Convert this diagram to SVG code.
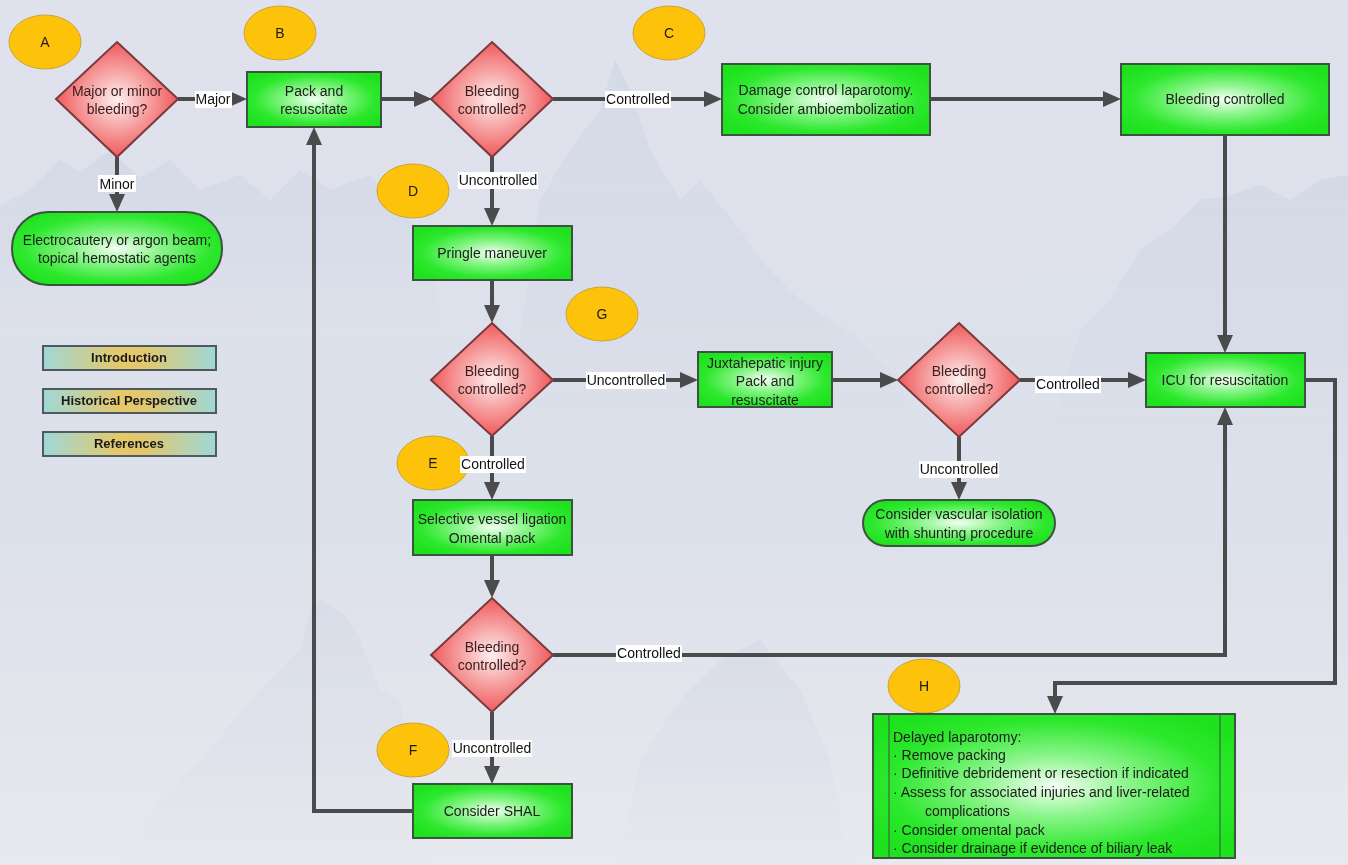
<svg xmlns="http://www.w3.org/2000/svg" width="1348" height="865" viewBox="0 0 1348 865">
  <defs>
    <linearGradient id="bgGrad" x1="0" y1="0" x2="0" y2="1">
      <stop offset="0" stop-color="#dfe2ec"/>
      <stop offset="0.6" stop-color="#dce0ea"/>
      <stop offset="1" stop-color="#e8e9ee"/>
    </linearGradient>
    <linearGradient id="mtnGrad" x1="0" y1="0" x2="0" y2="1">
      <stop offset="0" stop-color="#c3cbe0" stop-opacity="0.75"/>
      <stop offset="0.6" stop-color="#c8cfe2" stop-opacity="0.45"/>
      <stop offset="1" stop-color="#d6dbe8" stop-opacity="0"/>
    </linearGradient>
    <radialGradient id="greenGrad" cx="0.5" cy="0.5" r="0.6">
      <stop offset="0" stop-color="#f4fff4"/>
      <stop offset="0.35" stop-color="#8af58a"/>
      <stop offset="0.75" stop-color="#2de82d"/>
      <stop offset="1" stop-color="#1ee21e"/>
    </radialGradient>
    <radialGradient id="redGrad" cx="0.5" cy="0.5" r="0.55">
      <stop offset="0" stop-color="#fdf0f0"/>
      <stop offset="0.45" stop-color="#f7a4a4"/>
      <stop offset="1" stop-color="#ee4a4e"/>
    </radialGradient>
    <linearGradient id="navGrad" x1="0" y1="0" x2="1" y2="0">
      <stop offset="0" stop-color="#9fd8d8"/>
      <stop offset="0.45" stop-color="#e6c868"/>
      <stop offset="0.6" stop-color="#e0c870"/>
      <stop offset="1" stop-color="#9fd8d8"/>
    </linearGradient>
    <marker id="arrow" viewBox="0 0 18 16" refX="8" refY="8" markerWidth="18" markerHeight="16" markerUnits="userSpaceOnUse" orient="auto">
      <path d="M0,0 L18,8 L0,16 z" fill="#4b4b4d"/>
    </marker>
    <style>
      .box { fill: url(#greenGrad); stroke: #3d5240; stroke-width: 2; }
      .dia { fill: url(#redGrad); stroke: #7a3a3c; stroke-width: 2; }
      .tag { fill: #fdc30a; stroke: #c9a23a; stroke-width: 1; }
      .nav { fill: url(#navGrad); stroke: #4e5a60; stroke-width: 2; }
      .txt { font-family: "Liberation Sans", Arial, sans-serif; font-size: 14px; fill: #1c1c1c; text-anchor: middle; }
      .dtxt { font-family: "Liberation Sans", Arial, sans-serif; font-size: 14px; fill: #3a1c1c; text-anchor: middle; }
      .ltxt { font-family: "Liberation Sans", Arial, sans-serif; font-size: 14px; fill: #1c1c1c; }
      .navtxt { font-family: "Liberation Sans", Arial, sans-serif; font-size: 13px; font-weight: bold; fill: #1a1a1a; text-anchor: middle; }
      .lbl { font-family: "Liberation Sans", Arial, sans-serif; font-size: 14px; fill: #111; text-anchor: middle; }
      .lblbg { fill: #ffffff; }
      .conn { fill: none; stroke: #4b4b4d; stroke-width: 4; }
      .mtn { fill: url(#mtnGrad); }
    </style>
  </defs>

  <!-- backdrop -->
  <rect x="0" y="0" width="1348" height="865" fill="url(#bgGrad)"/>
  <g id="backdrop-mountains" opacity="0.45">
    <polygon class="mtn" points="0,330 0,205 30,190 60,160 80,172 110,150 140,178 170,160 200,190 240,175 270,200 300,170 330,190 370,175 400,210 430,240 440,330"/>
    <polygon class="mtn" points="500,470 540,200 570,150 600,110 615,60 630,90 650,150 680,200 700,180 740,230 760,260 800,300 860,340 900,380 920,470"/>
    <polygon class="mtn" points="1040,470 1080,330 1110,300 1140,250 1170,230 1200,200 1230,195 1260,185 1290,200 1320,180 1348,175 1348,470"/>
    <polygon class="mtn" points="120,865 160,800 200,760 260,690 300,650 310,610 320,600 345,615 360,640 380,690 400,700 430,865" opacity="0.6"/>
    <polygon class="mtn" points="620,865 640,760 680,700 720,660 760,640 800,690 830,760 850,865" opacity="0.7"/>
  </g>

  <!-- step tags -->
  <g id="tag-A"><ellipse class="tag" cx="45" cy="42" rx="36" ry="27"/><text class="txt" x="45" y="47">A</text></g>
  <g id="tag-B"><ellipse class="tag" cx="280" cy="33" rx="36" ry="27"/><text class="txt" x="280" y="38">B</text></g>
  <g id="tag-C"><ellipse class="tag" cx="669" cy="33" rx="36" ry="27"/><text class="txt" x="669" y="38">C</text></g>
  <g id="tag-D"><ellipse class="tag" cx="413" cy="191" rx="36" ry="27"/><text class="txt" x="413" y="196">D</text></g>
  <g id="tag-G"><ellipse class="tag" cx="602" cy="314" rx="36" ry="27"/><text class="txt" x="602" y="319">G</text></g>
  <g id="tag-E"><ellipse class="tag" cx="433" cy="463" rx="36" ry="27"/><text class="txt" x="433" y="468">E</text></g>
  <g id="tag-F"><ellipse class="tag" cx="413" cy="750" rx="36" ry="27"/><text class="txt" x="413" y="755">F</text></g>
  <g id="tag-H"><ellipse class="tag" cx="924" cy="686" rx="36" ry="27"/><text class="txt" x="924" y="691">H</text></g>

  <!-- connectors -->
  <g id="connectors">
    <path class="conn" d="M178,99 H237" marker-end="url(#arrow)"/>
    <path class="conn" d="M117,157 V202" marker-end="url(#arrow)"/>
    <path class="conn" d="M381,99 H422" marker-end="url(#arrow)"/>
    <path class="conn" d="M553,99 H712" marker-end="url(#arrow)"/>
    <path class="conn" d="M930,99 H1111" marker-end="url(#arrow)"/>
    <path class="conn" d="M1225,135 V343" marker-end="url(#arrow)"/>
    <path class="conn" d="M492,157 V216" marker-end="url(#arrow)"/>
    <path class="conn" d="M492,280 V313" marker-end="url(#arrow)"/>
    <path class="conn" d="M553,380 H688" marker-end="url(#arrow)"/>
    <path class="conn" d="M832,380 H888" marker-end="url(#arrow)"/>
    <path class="conn" d="M1020,380 H1136" marker-end="url(#arrow)"/>
    <path class="conn" d="M959,437 V490" marker-end="url(#arrow)"/>
    <path class="conn" d="M492,436 V490" marker-end="url(#arrow)"/>
    <path class="conn" d="M492,555 V588" marker-end="url(#arrow)"/>
    <path class="conn" d="M553,655 H1225 V417" marker-end="url(#arrow)"/>
    <path class="conn" d="M492,712 V774" marker-end="url(#arrow)"/>
    <path class="conn" d="M413,811 H314 V137" marker-end="url(#arrow)"/>
    <path class="conn" d="M1305,380 H1335 V683 H1055 V704" marker-end="url(#arrow)"/>

    <!-- connector labels -->
    <rect class="lblbg" x="195" y="91" width="37" height="17"/>
    <text class="lbl" x="213" y="104">Major</text>
    <rect class="lblbg" x="98" y="175" width="38" height="17"/>
    <text class="lbl" x="117" y="189">Minor</text>
    <rect class="lblbg" x="605" y="91" width="66" height="17"/>
    <text class="lbl" x="638" y="104">Controlled</text>
    <rect class="lblbg" x="458" y="172" width="80" height="17"/>
    <text class="lbl" x="498" y="185">Uncontrolled</text>
    <rect class="lblbg" x="586" y="372" width="80" height="17"/>
    <text class="lbl" x="626" y="385">Uncontrolled</text>
    <rect class="lblbg" x="1035" y="376" width="66" height="17"/>
    <text class="lbl" x="1068" y="389">Controlled</text>
    <rect class="lblbg" x="919" y="461" width="80" height="17"/>
    <text class="lbl" x="959" y="474">Uncontrolled</text>
    <rect class="lblbg" x="460" y="456" width="66" height="17"/>
    <text class="lbl" x="493" y="469">Controlled</text>
    <rect class="lblbg" x="616" y="645" width="66" height="17"/>
    <text class="lbl" x="649" y="658">Controlled</text>
    <rect class="lblbg" x="452" y="740" width="80" height="17"/>
    <text class="lbl" x="492" y="753">Uncontrolled</text>
  </g>

  <!-- decisions -->
  <g id="q-major-minor">
    <polygon class="dia" points="117,42 178,99 117,157 56,99"/>
    <text class="dtxt" x="117" y="96">Major or minor</text>
    <text class="dtxt" x="117" y="114">bleeding?</text>
  </g>
  <g id="q-controlled-1">
    <polygon class="dia" points="492,42 553,99 492,157 431,99"/>
    <text class="dtxt" x="492" y="96">Bleeding</text>
    <text class="dtxt" x="492" y="114">controlled?</text>
  </g>
  <g id="q-controlled-2">
    <polygon class="dia" points="492,323 553,380 492,436 431,380"/>
    <text class="dtxt" x="492" y="376">Bleeding</text>
    <text class="dtxt" x="492" y="394">controlled?</text>
  </g>
  <g id="q-controlled-3">
    <polygon class="dia" points="959,323 1020,380 959,437 898,380"/>
    <text class="dtxt" x="959" y="376">Bleeding</text>
    <text class="dtxt" x="959" y="394">controlled?</text>
  </g>
  <g id="q-controlled-4">
    <polygon class="dia" points="492,598 553,655 492,712 431,655"/>
    <text class="dtxt" x="492" y="652">Bleeding</text>
    <text class="dtxt" x="492" y="670">controlled?</text>
  </g>

  <!-- actions -->
  <g id="n-pack">
    <rect class="box" x="247" y="72" width="134" height="55"/>
    <text class="txt" x="314" y="96">Pack and</text>
    <text class="txt" x="314" y="114">resuscitate</text>
  </g>
  <g id="n-damage-control">
    <rect class="box" x="722" y="64" width="208" height="71"/>
    <text class="txt" x="826" y="95">Damage control laparotomy.</text>
    <text class="txt" x="826" y="114">Consider ambioembolization</text>
  </g>
  <g id="n-bleeding-controlled">
    <rect class="box" x="1121" y="64" width="208" height="71"/>
    <text class="txt" x="1225" y="104">Bleeding controlled</text>
  </g>
  <g id="n-pringle">
    <rect class="box" x="413" y="226" width="159" height="54"/>
    <text class="txt" x="492" y="258">Pringle maneuver</text>
  </g>
  <g id="n-juxtahepatic">
    <rect class="box" x="698" y="352" width="134" height="55"/>
    <text class="txt" x="765" y="368">Juxtahepatic injury</text>
    <text class="txt" x="765" y="386">Pack and</text>
    <text class="txt" x="765" y="405">resuscitate</text>
  </g>
  <g id="n-icu">
    <rect class="box" x="1146" y="353" width="159" height="54"/>
    <text class="txt" x="1225" y="385">ICU for resuscitation</text>
  </g>
  <g id="n-selective-ligation">
    <rect class="box" x="413" y="500" width="159" height="55"/>
    <text class="txt" x="492" y="524">Selective vessel ligation</text>
    <text class="txt" x="492" y="543">Omental pack</text>
  </g>
  <g id="n-shal">
    <rect class="box" x="413" y="784" width="159" height="54"/>
    <text class="txt" x="492" y="816">Consider SHAL</text>
  </g>
  <g id="n-delayed-laparotomy">
    <rect class="box" x="873" y="714" width="362" height="144"/>
    <line x1="889" y1="714" x2="889" y2="858" stroke="#3d5240" stroke-width="1"/>
    <line x1="1220" y1="714" x2="1220" y2="858" stroke="#3d5240" stroke-width="1"/>
    <text class="ltxt" x="893" y="742">Delayed laparotomy:</text>
    <text class="ltxt" x="893" y="760">· Remove packing</text>
    <text class="ltxt" x="893" y="778">· Definitive debridement or resection if indicated</text>
    <text class="ltxt" x="893" y="797">· Assess for associated injuries and liver-related</text>
    <text class="ltxt" x="925" y="816">complications</text>
    <text class="ltxt" x="893" y="835">· Consider omental pack</text>
    <text class="ltxt" x="893" y="853">· Consider drainage if evidence of biliary leak</text>
  </g>

  <!-- terminals -->
  <g id="n-electrocautery">
    <rect class="box" x="12" y="212" width="210" height="73" rx="36" ry="36"/>
    <text class="txt" x="117" y="245">Electrocautery or argon beam;</text>
    <text class="txt" x="117" y="263">topical hemostatic agents</text>
  </g>
  <g id="n-vascular-isolation">
    <rect class="box" x="863" y="500" width="192" height="46" rx="23" ry="23"/>
    <text class="txt" x="959" y="519">Consider vascular isolation</text>
    <text class="txt" x="959" y="538">with shunting procedure</text>
  </g>

  <!-- navigation buttons -->
  <g id="nav-introduction">
    <rect class="nav" x="43" y="346" width="173" height="24"/>
    <text class="navtxt" x="129" y="362">Introduction</text>
  </g>
  <g id="nav-historical">
    <rect class="nav" x="43" y="389" width="173" height="24"/>
    <text class="navtxt" x="129" y="405">Historical Perspective</text>
  </g>
  <g id="nav-references">
    <rect class="nav" x="43" y="432" width="173" height="24"/>
    <text class="navtxt" x="129" y="448">References</text>
  </g>
</svg>
